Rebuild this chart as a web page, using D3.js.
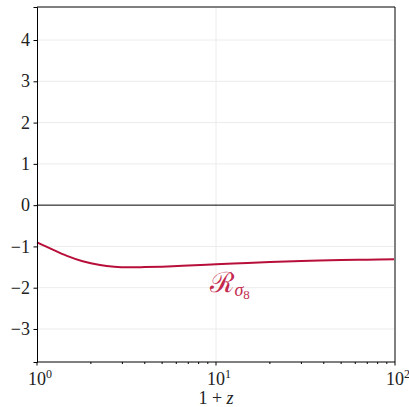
<!DOCTYPE html>
<html>
<head>
<meta charset="utf-8">
<script src="https://cdn.jsdelivr.net/npm/d3@7"></script>
</head>
<body style="margin:0">
<svg id="chart" width="409" height="407"></svg>
<script>
// growth-response curve R_sigma8 versus 1+z
const onePlusZ = [1, 1.2, 1.47, 1.8, 2.25, 2.7, 3.3, 4, 5, 6.5, 8.2, 10, 15, 20, 30, 50, 70, 100];
const rSigma8  = [-0.90, -1.06, -1.23, -1.36, -1.45, -1.49, -1.505, -1.50, -1.49, -1.47, -1.45, -1.43, -1.40, -1.38, -1.355, -1.33, -1.32, -1.31];
const yTicks = [-3, -2, -1, 0, 1, 2, 3, 4];
const xMajor = [1, 10, 100];
const xExponents = ["0", "1", "2"];
const curveLabel = { x: 12, y: -2.1 };

const W = 409, H = 407;
const m = { left: 37, right: 14, top: 7, bottom: 45 };
const svg = d3.select("#chart").style("font-family", '"Liberation Serif"');

const x = d3.scaleLog().domain([1, 100]).range([m.left, W - m.right]);
const y = d3.scaleLinear().domain([-3.8, 4.8]).range([H - m.bottom, m.top]);

// grid
svg.append("g").selectAll("line").data(yTicks.filter(d => d !== 0)).join("line")
  .attr("x1", m.left).attr("x2", W - m.right)
  .attr("y1", d => y(d)).attr("y2", d => y(d))
  .attr("stroke", "#ececec").attr("stroke-width", 1);
svg.append("g").selectAll("line").data(xMajor.slice(1, -1)).join("line")
  .attr("x1", d => x(d)).attr("x2", d => x(d))
  .attr("y1", m.top).attr("y2", H - m.bottom)
  .attr("stroke", "#ececec").attr("stroke-width", 1);

// zero line
svg.append("line")
  .attr("x1", m.left).attr("x2", W - m.right)
  .attr("y1", y(0)).attr("y2", y(0))
  .attr("stroke", "#000").attr("stroke-width", 1);

// curve
const line = d3.line().x((d, i) => x(onePlusZ[i])).y(d => y(d)).curve(d3.curveCatmullRom.alpha(0.5));
svg.append("path").datum(rSigma8)
  .attr("d", line).attr("fill", "none")
  .attr("stroke", "#b80f3a").attr("stroke-width", 2);

// frame
svg.append("line").attr("x1", W - m.right).attr("x2", W - m.right)
  .attr("y1", m.top).attr("y2", H - m.bottom)
  .attr("stroke", "#808080").attr("stroke-width", 2);
svg.append("line").attr("x1", m.left).attr("x2", W - m.right)
  .attr("y1", m.top).attr("y2", m.top)
  .attr("stroke", "#000").attr("stroke-width", 1);

// y axis: tick marks from d3.axisLeft, labels drawn as plain text
const yAxis = d3.axisLeft(y).tickValues(yTicks).tickSize(3.5).tickFormat("");
const gy = svg.append("g").attr("transform", `translate(${m.left},0)`).call(yAxis);
gy.select(".domain").attr("stroke", "#000");
gy.selectAll(".tick line").attr("stroke", "#000");
svg.append("g").selectAll("text").data(yTicks).join("text")
  .attr("x", m.left - 7).attr("y", d => y(d)).attr("dy", "0.34em")
  .attr("text-anchor", "end")
  .attr("font-family", "Liberation Serif").attr("font-size", 18).attr("fill", "#222")
  .text(d => d < 0 ? "\u2212" + Math.abs(d) : String(d));

// x axis with minor ticks
const minor = [];
for (let dec = 1; dec < 100; dec *= 10) for (let k = 2; k <= 9; k++) minor.push(dec * k);
const gx = svg.append("g").attr("transform", `translate(0,${H - m.bottom})`);
gx.append("line").attr("x1", m.left).attr("x2", W - m.right).attr("stroke", "#000");
gx.selectAll(".minor").data(minor).join("line").attr("class", "minor")
  .attr("x1", d => x(d)).attr("x2", d => x(d)).attr("y1", 0).attr("y2", 2)
  .attr("stroke", "#000");
gx.selectAll(".major").data(xMajor).join("line").attr("class", "major")
  .attr("x1", d => x(d)).attr("x2", d => x(d)).attr("y1", 0).attr("y2", 3.5)
  .attr("stroke", "#000");
const lbl = gx.selectAll(".lbl").data(xMajor).join("text").attr("class", "lbl")
  .attr("x", d => x(d) + 3).attr("y", 23).attr("text-anchor", "middle")
  .attr("font-family", "Liberation Serif").attr("font-size", 18).attr("fill", "#222");
lbl.append("tspan").text("10");
lbl.append("tspan").attr("dy", -7).attr("font-size", 12).text((d, i) => xExponents[i]);

// x axis title
const xt = svg.append("text").attr("x", x(10)).attr("y", H - 3)
  .attr("text-anchor", "middle")
  .attr("font-family", "Liberation Serif").attr("font-size", 18).attr("fill", "#222");
xt.append("tspan").text("1 + ");
xt.append("tspan").attr("font-style", "italic").text("z");

// curve label
const cl = svg.append("text").attr("x", x(curveLabel.x)).attr("y", y(curveLabel.y))
  .attr("text-anchor", "middle").attr("fill", "#c42a4e").attr("font-family", "Liberation Serif");
cl.append("tspan").attr("font-size", 28).text("\u211B");
cl.append("tspan").attr("font-size", 18).attr("font-style", "italic").attr("dy", 4).text("\u03C3");
cl.append("tspan").attr("font-size", 13).attr("dy", 3).text("8");
</script>
</body>
</html>
